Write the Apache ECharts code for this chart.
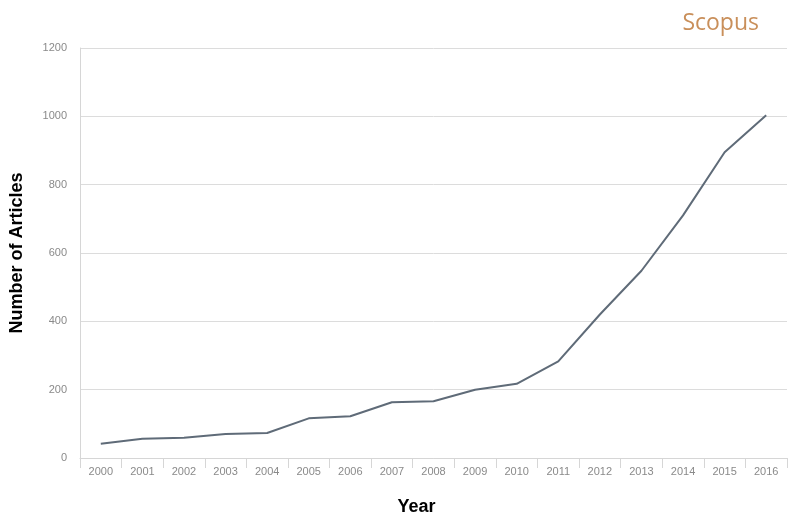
<!DOCTYPE html>
<html>
<head>
<meta charset="utf-8">
<script src="https://cdn.jsdelivr.net/npm/echarts@6/dist/echarts.min.js"></script>
<style>
  html, body { margin: 0; padding: 0; background: #fff; }
  #chart { width: 800px; height: 523px; }
</style>
</head>
<body>
<div id="chart"></div>
<script>
// years on the x axis
var years = ['2000', '2001', '2002', '2003', '2004', '2005', '2006', '2007', '2008',
  '2009', '2010', '2011', '2012', '2013', '2014', '2015', '2016'];
// number of articles per year
var articles = [42, 56, 59, 70, 73, 116, 122, 163, 166, 200, 217, 283, 420, 548, 710, 895, 1003];

var myChart = echarts.init(document.getElementById('chart'));
var option = {
  backgroundColor: '#ffffff',
  title: {
    text: 'Scopus',
    right: 36,
    top: 7,
    textStyle: { color: '#c98f5a', fontSize: 23, fontWeight: 'normal', fontFamily: 'Open Sans' }
  },
  grid: { left: 78, right: 13, top: 48, bottom: 65 },
  xAxis: {
    type: 'category',
    data: years,
    boundaryGap: true,
    name: 'Year',
    nameLocation: 'middle',
    nameGap: 40,
    // the title sits a little left of the plot centre in the original
    nameTextStyle: { color: '#000', fontSize: 18, fontWeight: 'bold', fontFamily: 'Liberation Sans', padding: [0, 34, 0, 0] },
    axisLine: { lineStyle: { color: '#d6d6d6', width: 1 } },
    axisTick: { show: true, length: 10, lineStyle: { color: '#d6d6d6' } },
    axisLabel: { color: '#8a8a8a', fontSize: 11, margin: 8, fontFamily: 'Liberation Sans' }
  },
  yAxis: {
    type: 'value',
    min: 0,
    max: 1200,
    interval: 200,
    name: 'Number of Articles',
    nameLocation: 'middle',
    nameGap: 54,
    nameTextStyle: { color: '#000', fontSize: 18, fontWeight: 'bold', fontFamily: 'Liberation Sans' },
    axisLine: { show: true, lineStyle: { color: '#d6d6d6', width: 1 } },
    axisTick: { show: false },
    axisLabel: {
      color: '#8a8a8a', fontSize: 11, margin: 13, fontFamily: 'Liberation Sans',
      formatter: function (v) { return String(v); }
    },
    splitLine: { lineStyle: { color: '#dcdcdc', width: 1 } }
  },
  series: [
    {
      name: 'Articles',
      type: 'line',
      data: articles,
      symbol: 'none',
      lineStyle: { color: '#5f6b78', width: 2 },
      animation: false
    }
  ]
};
option && myChart.setOption(option);
</script>
</body>
</html>
